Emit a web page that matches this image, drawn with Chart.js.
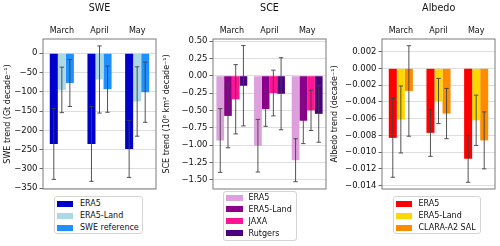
<!DOCTYPE html>
<html>
<head>
<meta charset="utf-8">
<script src="https://cdn.jsdelivr.net/npm/chart.js@4.4.0/dist/chart.umd.min.js"></script>
<style>
body{margin:0;background:#fff;font-family:"DejaVu Sans",sans-serif;}
#wrap{position:relative;width:500px;height:246px;overflow:hidden;}
canvas{position:absolute;left:0;top:0;}
.ttl{position:absolute;top:2px;font-size:9.6px;color:#111;transform:translateX(-50%);white-space:nowrap;}
.leg{position:absolute;border:1px solid #d4d4d4;border-radius:3px;background:#fff;box-sizing:border-box;padding:0 0 0 2px;}
.row{height:12px;display:flex;align-items:center;font-size:8px;color:#111;white-space:nowrap;}
.sw{height:6px;flex:none;}
</style>
</head>
<body>
<div id="wrap">
  <canvas id="cSwe" width="500" height="246"></canvas>
  <canvas id="cSce" width="500" height="246"></canvas>
  <canvas id="cAlb" width="500" height="246"></canvas>
</div>
<script>
const months = ['March', 'April', 'May'];

// SWE (Gt decade-1)
const sweSeries = ['ERA5', 'ERA5-Land', 'SWE reference'];
const sweColors = ['#0000cd', '#add8e6', '#1e90ff'];
const sweEra5 = [-235, -235, -248];
const sweEra5Err = [92, 97, 74];
const sweLand = [-95, -68, -125];
const sweLandErr = [59, 87, 90];
const sweRef = [-77, -93, -101];
const sweRefErr = [61, 60, 78];
const sweTicks = [0, -50, -100, -150, -200, -250, -300, -350];

// SCE (10^6 km2 decade-1)
const sceSeries = ['ERA5', 'ERA5-Land', 'JAXA', 'Rutgers'];
const sceColors = ['#dda0dd', '#8b008b', '#ff1493', '#4b0082'];
const sceEra5 = [-0.935, -1.01, -1.22];
const sceEra5Err = [0.46, 0.38, 0.31];
const sceLand = [-0.58, -0.48, -0.65];
const sceLandErr = [0.46, 0.25, 0.33];
const sceJaxa = [-0.34, -0.25, -0.50];
const sceJaxaErr = [0.50, 0.33, 0.29];
const sceRutgers = [-0.145, -0.26, -0.55];
const sceRutgersErr = [0.58, 0.52, 0.41];
const sceTicks = [0.5, 0.25, 0, -0.25, -0.5, -0.75, -1.0, -1.25, -1.5];

// Albedo (decade-1)
const albSeries = ['ERA5', 'ERA5-Land', 'CLARA-A2 SAL'];
const albColors = ['#ff0000', '#ffd700', '#ff8c00'];
const albEra5 = [-0.0083, -0.0077, -0.0108];
const albEra5Err = [0.0047, 0.0028, 0.0028];
const albLand = [-0.0061, -0.0039, -0.0062];
const albLandErr = [0.0040, 0.0027, 0.0030];
const albClara = [-0.0027, -0.0054, -0.0086];
const albClaraErr = [0.0054, 0.0030, 0.0034];
const albTicks = [0.002, 0, -0.002, -0.004, -0.006, -0.008, -0.010, -0.012, -0.014];

const fmt = (v, d) => (v < -1e-12 ? '\u2212' : '') + Math.abs(v).toFixed(d);

// error bars + axes frame
const extras = {
  id: 'extras',
  afterDatasetsDraw(chart){
    const ctx = chart.ctx, ys = chart.scales.y;
    ctx.save();
    ctx.strokeStyle = '#404040';
    ctx.lineWidth = 0.9;
    chart.data.datasets.forEach((ds, i) => {
      const meta = chart.getDatasetMeta(i);
      meta.data.forEach((bar, j) => {
        const v = ds.data[j], e = ds.err[j];
        const y1 = ys.getPixelForValue(v + e), y2 = ys.getPixelForValue(v - e);
        const x = bar.x;
        ctx.beginPath();
        ctx.moveTo(x, y1); ctx.lineTo(x, y2);
        ctx.moveTo(x - 2.2, y1); ctx.lineTo(x + 2.2, y1);
        ctx.moveTo(x - 2.2, y2); ctx.lineTo(x + 2.2, y2);
        ctx.stroke();
      });
    });
    ctx.restore();
  },
  afterDraw(chart){
    const a = chart.chartArea, ctx = chart.ctx;
    ctx.save();
    ctx.strokeStyle = '#7a7a7a';
    ctx.lineWidth = 1;
    ctx.strokeRect(a.left, a.top, a.right - a.left, a.bottom - a.top);
    ctx.restore();
  }
};

function makePanel(id, p){
  const datasets = p.series.map((s, i) => ({
    label: s,
    data: p.values[i],
    err: p.errs[i],
    backgroundColor: p.colors[i],
    borderWidth: 0,
    barPercentage: 1,
    categoryPercentage: p.catPct
  }));
  return new Chart(document.getElementById(id), {
    type: 'bar',
    data: { labels: months, datasets },
    plugins: [extras],
    options: {
      responsive: false,
      animation: false,
      layout: { padding: { left: p.padLeft, right: 500 - p.right, top: 0, bottom: 246 - p.bottom } },
      plugins: { legend: { display: false }, tooltip: { enabled: false } },
      scales: {
        x: {
          position: 'top',
          offset: true,
          grid: { display: false },
          border: { display: false },
          ticks: { color: '#111', font: { family: 'DejaVu Sans', size: 8 }, padding: -5, maxRotation: 0 },
          afterFit(s){ s.height = 39; }
        },
        y: {
          min: p.min, max: p.max,
          afterBuildTicks(s){ s.ticks = p.ticks.map(v => ({ value: v })); },
          grid: { color: '#dedede', lineWidth: 1, tickColor: '#666', tickLength: 3.5 },
          border: { display: false },
          ticks: { color: '#111', font: { family: 'DejaVu Sans', size: 8.5 }, padding: 2,
                   callback: v => fmt(v, p.dec) },
          title: { display: true, text: p.ytitle, color: '#111', font: { family: 'DejaVu Sans', size: 8 }, padding: 0 },
          afterFit(s){ s.width = p.left - p.padLeft; }
        }
      }
    }
  });
}

makePanel('cSwe', {
  series: sweSeries, colors: sweColors,
  values: [sweEra5, sweLand, sweRef], errs: [sweEra5Err, sweLandErr, sweRefErr],
  ticks: sweTicks, dec: 0, min: -352, max: 37, catPct: 0.64,
  padLeft: 3.5, left: 43, right: 156, bottom: 189,
  ytitle: 'SWE trend (Gt decade\u207B\u00B9)'
});
makePanel('cSce', {
  series: sceSeries, colors: sceColors,
  values: [sceEra5, sceLand, sceJaxa, sceRutgers], errs: [sceEra5Err, sceLandErr, sceJaxaErr, sceRutgersErr],
  ticks: sceTicks, dec: 2, min: -1.635, max: 0.53, catPct: 0.82,
  padLeft: 162, left: 213, right: 326, bottom: 189,
  ytitle: 'SCE trend (10\u2076 km\u00B2 decade\u207B\u00B9)'
});
makePanel('cAlb', {
  series: albSeries, colors: albColors,
  values: [albEra5, albLand, albClara], errs: [albEra5Err, albLandErr, albClaraErr],
  ticks: albTicks, dec: 3, min: -0.0144, max: 0.0035, catPct: 0.64,
  padLeft: 330.2, left: 382, right: 495, bottom: 189,
  ytitle: 'Albedo trend (decade\u207B\u00B9)'
});

// titles and legends
const wrap = document.getElementById('wrap');
function addTitle(text, cx){
  const d = document.createElement('div');
  d.className = 'ttl'; d.textContent = text; d.style.left = cx + 'px';
  wrap.appendChild(d);
}
addTitle('SWE', 99.5);
addTitle('SCE', 269.5);
addTitle('Albedo', 438.7);

function addLegend(series, colors, box){
  const d = document.createElement('div');
  d.className = 'leg';
  d.style.left = box.x + 'px'; d.style.top = box.y + 'px';
  d.style.width = box.w + 'px'; d.style.height = box.h + 'px';
  d.style.paddingTop = box.pt + 'px';
  series.forEach((s, i) => {
    const r = document.createElement('div');
    r.className = 'row';
    r.style.height = box.rh + 'px';
    const sw = document.createElement('span');
    sw.className = 'sw';
    sw.style.background = colors[i];
    sw.style.width = box.sw + 'px';
    sw.style.marginRight = box.gap + 'px';
    const t = document.createElement('span');
    t.textContent = s;
    r.appendChild(sw); r.appendChild(t);
    d.appendChild(r);
  });
  wrap.appendChild(d);
}
addLegend(sweSeries, sweColors, { x: 54, y: 196, w: 89, h: 38, pt: 0.5, rh: 12.2, sw: 16, gap: 7 });
addLegend(sceSeries, sceColors, { x: 223, y: 190.5, w: 74, h: 50.5, pt: 0.3, rh: 11.8, sw: 16.5, gap: 6 });
addLegend(albSeries, albColors, { x: 393, y: 196, w: 88, h: 38, pt: 0.5, rh: 12.2, sw: 16, gap: 6.5 });
</script>
</body>
</html>
